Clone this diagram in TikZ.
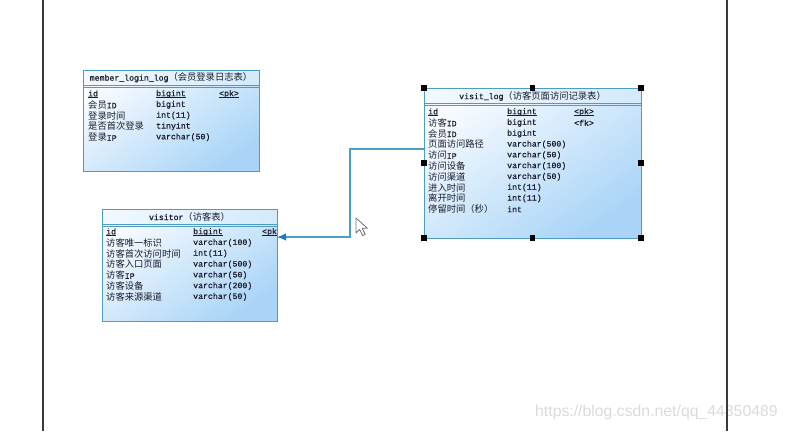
\documentclass[tikz,border=0pt]{standalone}
\usepackage{fontspec}
\setmainfont{Liberation Mono}[FakeBold=0.8]
\newfontfamily\cjkf{Noto Sans CJK SC}
\newfontfamily\wmf{Liberation Sans}
\usetikzlibrary{arrows.meta}
\newcommand\zh[1]{{\cjkf\fontsize{9.3}{9.3}\selectfont #1}}
\newcommand\ul[1]{\leavevmode\setbox0\hbox{#1}\rlap{\raisebox{-1.2pt}{\rule{\wd0}{0.55pt}}}\box0}
\definecolor{bordc}{HTML}{4F9CC2}
\definecolor{bodyA}{HTML}{F7FBFF}
\definecolor{bodyB}{HTML}{A9D4F7}
\definecolor{titleA}{HTML}{F2F9FF}
\definecolor{titleB}{HTML}{D2EAFB}
\definecolor{textc}{HTML}{1C1C2C}
\definecolor{arrc}{HTML}{1E78C8}
\definecolor{wmc}{HTML}{DADADA}
\definecolor{framec}{HTML}{3A3A3A}
\tikzset{
  tbl/.style={draw=bordc, line width=1pt, anchor=north west, inner sep=0pt, outer sep=0pt,
    top color=bodyA, bottom color=bodyB, shading angle=35},
  txt/.style={anchor=west, inner sep=0pt, text=textc, font=\fontsize{8.2}{9}\selectfont},
  ttl/.style={txt, anchor=center},
  conn/.style={draw=bordc, line width=1.4pt},
  frame/.style={draw=framec, line width=1.1pt},
}
\begin{document}
\begin{tikzpicture}[x=1pt,y=-1pt]
\useasboundingbox (0,0) rectangle (787,431);

% ---------- member_login_log ----------
\node[tbl, minimum width=176pt, minimum height=101pt] (mll) at (83,70) {};
\fill[left color=titleA, right color=titleB] (mll.north west) rectangle (mll.east |- 0,85);
\draw[bordc, line width=1pt] (mll.north west) rectangle (mll.south east);
\draw[bordc, line width=0.8pt] (mll.west |- 0,85) -- (mll.east |- 0,85);
\draw[bordc, line width=0.5pt] (mll.west |- 0,87) -- (mll.east |- 0,87);
\node[ttl] (mllt) at (171,77.5) {member\_login\_log\zh{（会员登录日志表）}};
\node[txt] (mn0) at (88,94) {\ul{id}};
\node[txt] (mt0) at (156,94) {\ul{bigint}};
\node[txt] (mk0) at (219,94) {\ul{<pk>}};
\foreach \nm/\ty [count=\i] in {\zh{会员}ID/bigint, \zh{登录时间}/int(11), \zh{是否首次登录}/tinyint, \zh{登录}IP/varchar(50)}{
  \node[txt] (mn\i) at (88,{94+10.8*\i}) {\nm};
  \node[txt] (mt\i) at (156,{94+10.8*\i}) {\ty};
}

% ---------- visitor ----------
\node[tbl, minimum width=175pt, minimum height=112pt] (vis) at (102,209) {};
\fill[left color=titleA, right color=titleB] (vis.north west) rectangle (vis.east |- 0,224);
\draw[bordc, line width=1pt] (vis.north west) rectangle (vis.south east);
\draw[bordc, line width=0.8pt] (vis.west |- 0,224) -- (vis.east |- 0,224);
\draw[bordc, line width=0.5pt] (vis.west |- 0,226) -- (vis.east |- 0,226);
\node[ttl] (vist) at (189.5,216.5) {visitor\zh{（访客表）}};
\node[txt] (vn0) at (106,232) {\ul{id}};
\node[txt] (vt0) at (193,232) {\ul{bigint}};
\begin{scope}
  \clip (vis.north west) rectangle (vis.south east);
  \node[txt] (vk0) at (262,232) {\ul{<pk>}};
\end{scope}
\foreach \nm/\ty [count=\i] in {\zh{访客唯一标识}/varchar(100), \zh{访客首次访问时间}/int(11), \zh{访客入口页面}/varchar(500), \zh{访客}IP/varchar(50), \zh{访客设备}/varchar(200), \zh{访客来源渠道}/varchar(50)}{
  \node[txt] (vn\i) at (106,{232+10.8*\i}) {\nm};
  \node[txt] (vt\i) at (193,{232+10.8*\i}) {\ty};
}

% ---------- visit_log ----------
\node[tbl, minimum width=217pt, minimum height=150pt] (vl) at (424,88) {};
\fill[left color=titleA, right color=titleB] (vl.north west) rectangle (vl.east |- 0,103);
\draw[bordc, line width=1pt] (vl.north west) rectangle (vl.south east);
\draw[bordc, line width=0.8pt] (vl.west |- 0,103) -- (vl.east |- 0,103);
\draw[bordc, line width=0.5pt] (vl.west |- 0,105) -- (vl.east |- 0,105);
\node[ttl] (vlt) at (532.5,96) {visit\_log\zh{（访客页面访问记录表）}};
\node[txt] (ln0) at (428,112) {\ul{id}};
\node[txt] (lt0) at (507,112) {\ul{bigint}};
\node[txt] (lk0) at (574,112) {\ul{<pk>}};
\node[txt] (lk1) at (574,122.8) {<fk>};
\foreach \nm/\ty [count=\i] in {\zh{访客}ID/bigint, \zh{会员}ID/bigint, \zh{页面访问路径}/varchar(500), \zh{访问}IP/varchar(50), \zh{访问设备}/varchar(100), \zh{访问渠道}/varchar(50), \zh{进入时间}/int(11), \zh{离开时间}/int(11), \zh{停留时间（秒）}/int}{
  \node[txt] (ln\i) at (428,{112+10.8*\i}) {\nm};
  \node[txt] (lt\i) at (507,{112+10.8*\i}) {\ty};
}

% selection handles
\foreach \a in {north west,north,north east,west,east,south west,south,south east}
  \fill[black] (vl.\a) ++(-2.6,-2.6) rectangle ++(5.2,5.2);

% ---------- connector ----------
\coordinate (cs) at (vl.west |- 0,149);
\coordinate (ce) at (vis.east |- 0,237);
\coordinate (cb) at (350,149);
\draw[conn, -{Latex[length=9pt,width=7.5pt,color=arrc]}] (cs) -- (cb) |- (ce);

% mouse cursor
\draw[draw=black!55, fill=white, line width=0.8pt, line join=round]
  (356,218) -- ++(0,15) -- ++(3.6,-3.6) -- ++(3,6.2) -- ++(2.6,-1.3) -- ++(-3,-6) -- ++(5.2,0) -- cycle;

% watermark
\node[anchor=west, inner sep=0pt, text=wmc, font=\wmf\fontsize{15.8}{15.8}\selectfont] (wm) at (535,412) {https://blog.csdn.net/qq\_44850489};

% page frame lines
\draw[frame] (43,0) -- (43,431);
\draw[frame] (727,0) -- (727,431);
\end{tikzpicture}
\end{document}
